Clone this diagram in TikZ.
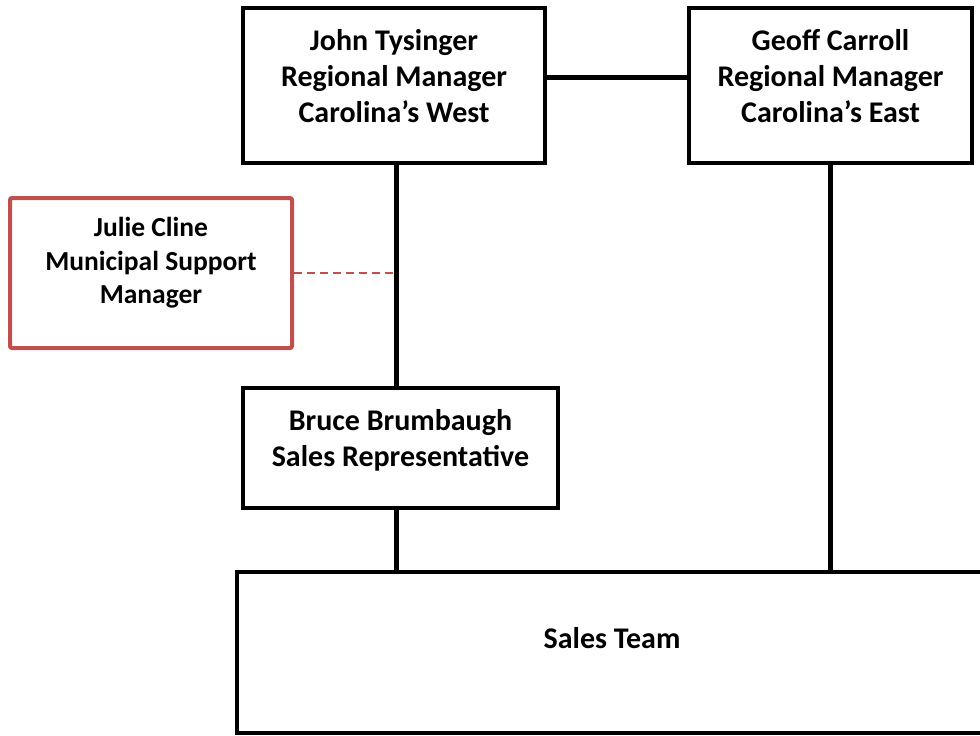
\documentclass[tikz,border=0pt]{standalone}
\usepackage{fontspec}
\setmainfont{Carlito}
\usetikzlibrary{positioning}
\definecolor{supportRed}{RGB}{192,80,77}
\tikzstyle{black} = [rectangle, minimum width=302pt, minimum height=155pt, text centered, align=center, draw=black, line width=4.5pt, font=\bfseries\fontsize{30}{36}\selectfont, text depth=20pt]
\tikzstyle{support} = [rectangle, rounded corners=2pt, minimum width=282pt, minimum height=150pt, text centered, align=center, draw=supportRed, line width=4pt, font=\bfseries\fontsize{27.5}{33.5}\selectfont, text depth=25pt]
\tikzstyle{line} = [line width=5pt]
\tikzstyle{dotted line} = [supportRed, line width=1.3pt, dash pattern=on 8pt off 5pt]

\begin{document}
\begin{tikzpicture}[x=1pt, y=1pt, node distance=436.5pt]
\useasboundingbox (0,0) rectangle (980,-736);

% Row 1 - Regional Managers
\node (john) [black] at (394,-85.5) {John Tysinger \\ Regional Manager \\ Carolina’s West};
\node (geoff) [black, right of=john, minimum width=283pt] {Geoff Carroll \\ Regional Manager \\ Carolina’s East};

% Row 2 - Support
\node (julie) [support] at (151,-273) {Julie Cline \\ Municipal Support \\ Manager};

% Row 3 - Sales
\node (bruce) [black, minimum width=315pt, minimum height=120pt] at (400.5,-448) {Bruce Brumbaugh \\ Sales Representative};
\node (sales) [black, minimum width=750pt, minimum height=161pt, text depth=30pt] at (612,-652.5) {Sales Team};

% Lines
\draw [line] ([yshift=8.5pt]john.east) -- ([yshift=8.5pt]geoff.west);
\draw [line] ([xshift=2pt]john.south) -- ([xshift=2pt]john.south |- bruce.north);
\draw [dotted line] (julie.east) -- ([xshift=2pt]julie.east -| john.south);
\draw [line] ([xshift=2pt]john.south |- bruce.south) -- ([xshift=2pt]john.south |- sales.north);
\draw [line] (geoff.south) -- (geoff.south |- sales.north);

\end{tikzpicture}
\end{document}
